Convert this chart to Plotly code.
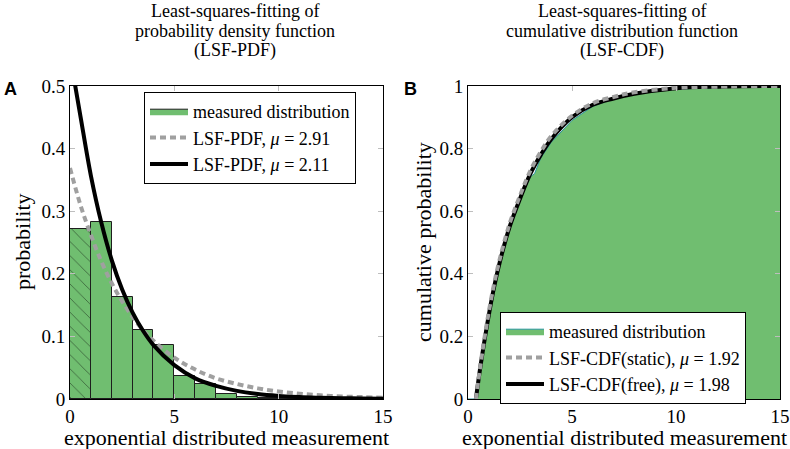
import plotly.graph_objects as go

# Panel A: histogram of measurement (bin width 1) and two fitted PDFs
bin_centers = [0.5, 1.5, 2.5, 3.5, 4.5, 5.5, 6.5, 7.5, 8.5, 9.5, 10.5, 11.5, 12.5, 13.5, 14.5]
bin_probs = [0.272, 0.283, 0.163, 0.111, 0.086, 0.036, 0.024, 0.008, 0.004, 0.002, 0.001, 0.0005, 0.0, 0.0, 0.0]

pdf_x_grey = [0, 0.5, 1, 1.5, 2, 2.5, 3, 3.5, 4, 5, 6, 7, 8, 9, 10, 11, 12, 13, 14, 15]
pdf_y_grey = [0.369, 0.31, 0.262, 0.22, 0.185, 0.156, 0.131, 0.11, 0.093, 0.066, 0.047, 0.033, 0.024, 0.017, 0.012, 0.0085, 0.006, 0.004, 0.003, 0.002]

pdf_x_black = [0.2, 0.5, 1, 1.5, 2, 2.5, 3, 3.5, 4, 5, 6, 7, 8, 9, 10, 11, 12, 13, 14, 15]
pdf_y_black = [0.51, 0.452, 0.357, 0.282, 0.222, 0.175, 0.138, 0.109, 0.086, 0.054, 0.033, 0.021, 0.013, 0.008, 0.005, 0.003, 0.002, 0.0013, 0.0008, 0.0005]

# Panel B: empirical CDF and two fitted CDFs
ecdf_x = [0, 0.3, 0.4, 0.6, 0.9, 1.2, 1.5, 2.0, 2.5, 3.0, 3.2, 3.5, 4, 5, 6, 7, 8, 10, 12, 15]
ecdf_y = [0, 0, 0.01, 0.1, 0.22, 0.33, 0.43, 0.55, 0.64, 0.71, 0.72, 0.77, 0.82, 0.89, 0.935, 0.96, 0.975, 0.99, 0.995, 0.997]

cdf_x = [0.38, 0.6, 0.9, 1.2, 1.5, 2, 2.5, 3, 3.5, 4, 5, 6, 7, 8, 10, 12, 15]
cdf_y_static = [0, 0.11, 0.24, 0.35, 0.44, 0.56, 0.65, 0.73, 0.79, 0.84, 0.905, 0.945, 0.965, 0.98, 0.994, 0.998, 1.0]
cdf_y_free = [0, 0.105, 0.23, 0.34, 0.43, 0.55, 0.64, 0.72, 0.78, 0.83, 0.90, 0.94, 0.96, 0.975, 0.993, 0.998, 1.0]

GREEN = "rgb(112,190,112)"
GREY = "rgb(160,160,160)"
TEAL = "rgb(40,150,155)"
EDGE = "rgb(30,30,30)"
SERIF = "Liberation Serif"
W, H = 790, 449

fig = go.Figure()

# left panel
fig.add_trace(go.Bar(x=bin_centers[1:], y=bin_probs[1:], width=1, showlegend=False,
                     marker=dict(color=GREEN, line=dict(color=EDGE, width=1)),
                     xaxis="x", yaxis="y"))
fig.add_trace(go.Bar(x=bin_centers[:1], y=bin_probs[:1], width=1, showlegend=False,
                     marker=dict(color=GREEN, line=dict(color=EDGE, width=1),
                                 pattern=dict(shape="\\", fgcolor="black", size=10, solidity=0.08)),
                     xaxis="x", yaxis="y"))
# legend entry drawn as a filled box like the reference
fig.add_trace(go.Scatter(x=[None], y=[None], mode="lines", fill="toself", fillcolor=GREEN,
                         line=dict(color=EDGE, width=1), name="measured distribution",
                         xaxis="x", yaxis="y", legend="legend"))
fig.add_trace(go.Scatter(x=pdf_x_grey, y=pdf_y_grey, mode="lines", line_shape="spline",
                         name="LSF-PDF, <i>μ</i> = 2.91",
                         line=dict(color=GREY, width=4, dash="6px,4px"),
                         xaxis="x", yaxis="y", legend="legend"))
fig.add_trace(go.Scatter(x=pdf_x_black, y=pdf_y_black, mode="lines", line_shape="spline",
                         name="LSF-PDF, <i>μ</i> = 2.11",
                         line=dict(color="black", width=4),
                         xaxis="x", yaxis="y", legend="legend"))

# right panel
fig.add_trace(go.Scatter(x=ecdf_x, y=ecdf_y, mode="lines", fill="tozeroy", fillcolor=GREEN,
                         name="measured distribution", line=dict(color=TEAL, width=1),
                         xaxis="x2", yaxis="y2", legend="legend2", legendrank=1))
fig.add_trace(go.Scatter(x=cdf_x, y=cdf_y_free, mode="lines", line_shape="spline",
                         name="LSF-CDF(free), <i>μ</i> = 1.98",
                         line=dict(color="black", width=4),
                         xaxis="x2", yaxis="y2", legend="legend2", legendrank=3))
fig.add_trace(go.Scatter(x=cdf_x, y=cdf_y_static, mode="lines", line_shape="spline",
                         name="LSF-CDF(static), <i>μ</i> = 1.92",
                         line=dict(color=GREY, width=4, dash="6px,4px"),
                         xaxis="x2", yaxis="y2", legend="legend2", legendrank=2))

axis_style = dict(showgrid=False, zeroline=False, showline=True, linecolor="black", linewidth=1,
                  mirror="ticks", ticks="inside", ticklen=5, tickcolor="rgb(190,190,190)",
                  automargin=False, tickfont=dict(family=SERIF, size=19, color="black"))

x_dom_a = [70 / W, 383 / W]
x_dom_b = [468 / W, 780 / W]
y_dom = [1 - 399 / H, 1 - 86 / H]

fig.update_layout(
    width=W, height=H,
    margin=dict(l=0, r=0, t=0, b=0),
    paper_bgcolor="white", plot_bgcolor="white",
    barmode="overlay", bargap=0,
    font=dict(family=SERIF, size=19, color="black"),
    xaxis=dict(domain=x_dom_a, range=[0, 15], tickvals=[0, 5, 10, 15], anchor="y", **axis_style),
    yaxis=dict(domain=y_dom, range=[0, 0.5], tickvals=[0, 0.1, 0.2, 0.3, 0.4, 0.5],
               ticktext=["0", "0.1", "0.2", "0.3", "0.4", "0.5"], anchor="x", **axis_style),
    xaxis2=dict(domain=x_dom_b, range=[0, 15], tickvals=[0, 5, 10, 15], anchor="y2", **axis_style),
    yaxis2=dict(domain=y_dom, range=[0, 1], tickvals=[0, 0.2, 0.4, 0.6, 0.8, 1],
                ticktext=["0", "0.2", "0.4", "0.6", "0.8", "1"], anchor="x2", **axis_style),
    legend=dict(x=144 / W, y=1 - 92 / H, xanchor="left", yanchor="top",
                bgcolor="white", bordercolor="black", borderwidth=1, itemwidth=38,
                font=dict(family=SERIF, size=18), tracegroupgap=0, traceorder="normal"),
    legend2=dict(x=500 / W, y=1 - 312 / H, xanchor="left", yanchor="top",
                 bgcolor="white", bordercolor="black", borderwidth=1, itemwidth=38,
                 font=dict(family=SERIF, size=18), tracegroupgap=0),
)

# panel titles, one annotation per line to keep tight line spacing
title_lines = [
    (235, ["Least-squares-fitting of", "probability density function", "(LSF-PDF)"]),
    (622, ["Least-squares-fitting of", "cumulative distribution function", "(LSF-CDF)"]),
]
for cx, lines in title_lines:
    for i, line in enumerate(lines):
        fig.add_annotation(x=cx / W, y=1 - (10.5 + 20 * i) / H, xref="paper", yref="paper",
                           xanchor="center", yanchor="middle", text=line, showarrow=False,
                           font=dict(family=SERIF, size=18, color="black"))

# axis titles
for cx in [226.5, 624]:
    fig.add_annotation(x=cx / W, y=1 - 437 / H, xref="paper", yref="paper", xanchor="center",
                       yanchor="middle", text="exponential distributed measurement", showarrow=False,
                       font=dict(family=SERIF, size=22, color="black"))
for cx, txt in [(22, "probability"), (423, "cumulative probability")]:
    fig.add_annotation(x=cx / W, y=1 - 242 / H, xref="paper", yref="paper", xanchor="center",
                       yanchor="middle", text=txt, textangle=-90, showarrow=False,
                       font=dict(family=SERIF, size=22, color="black"))

for lx, lab in [(10, "A"), (410, "B")]:
    fig.add_annotation(x=lx / W, y=1 - 89 / H, xref="paper", yref="paper", xanchor="center",
                       yanchor="middle", text="<b>" + lab + "</b>", showarrow=False,
                       font=dict(family="Liberation Sans", size=18, color="black"))

# drop the page's default body margin so the figure sits at the window's corner
fig.write_html("out.html", config={"displayModeBar": False},
               post_script="document.body.style.margin = '0';")
